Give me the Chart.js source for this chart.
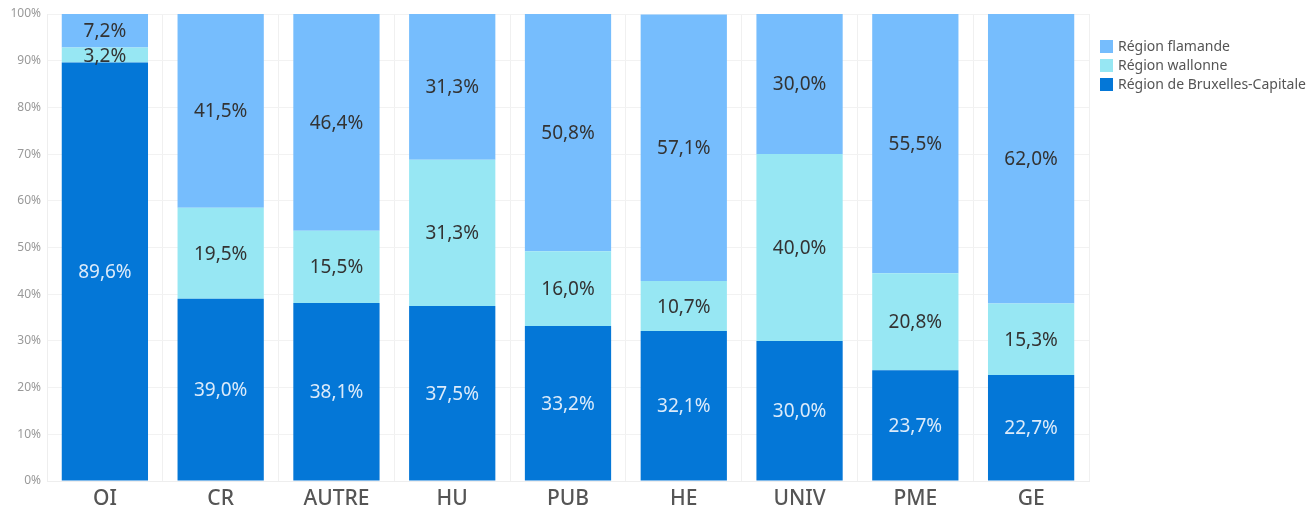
<!DOCTYPE html>
<html>
<head>
<meta charset="utf-8">
<script src="https://cdn.jsdelivr.net/npm/chart.js@4"></script>
<style>
  html, body { margin: 0; padding: 0; background: #fff; }
  #wrap { position: relative; width: 1315px; height: 512px; }
  #legend { position: absolute; left: 1100px; top: 36px; font: 14px "Noto Sans", sans-serif; color: #555; }
  #legend div { height: 19px; line-height: 19px; white-space: nowrap; }
  #legend span { display: inline-block; width: 13px; height: 13px; vertical-align: -2px; margin-right: 5px; }
</style>
</head>
<body>
<div id="wrap"><canvas id="chart"></canvas><div id="legend"></div></div>
<script>
// données (en %)
const categories = ['OI', 'CR', 'AUTRE', 'HU', 'PUB', 'HE', 'UNIV', 'PME', 'GE'];
const bruxelles = [89.6, 39.0, 38.1, 37.5, 33.2, 32.1, 30.0, 23.7, 22.7];
const wallonne = [3.2, 19.5, 15.5, 31.3, 16.0, 10.7, 40.0, 20.8, 15.3];
const flamande = [7.2, 41.5, 46.4, 31.3, 50.8, 57.1, 30.0, 55.5, 62.0];
const yTicks = [0, 10, 20, 30, 40, 50, 60, 70, 80, 90, 100];

const FONT = '"Noto Sans", sans-serif';

// étiquettes au milieu de chaque segment
const segmentLabels = {
    id: 'segmentLabels',
    afterDatasetsDraw(chart) {
        const ctx = chart.ctx;
        ctx.save();
        ctx.font = '19px ' + FONT;
        ctx.textAlign = 'center';
        ctx.textBaseline = 'middle';
        chart.data.datasets.forEach((ds, i) => {
            const meta = chart.getDatasetMeta(i);
            meta.data.forEach((bar, j) => {
                const v = ds.data[j];
                ctx.fillStyle = ds.labelColor;
                const txt = v.toFixed(1).replace('.', ',') + '%';
                ctx.fillText(txt, bar.x, (bar.y + bar.base) / 2 + 1);
            });
        });
        ctx.restore();
    }
};

const ctx = document.getElementById('chart').getContext('2d');
const chart = new Chart(ctx, {
    type: 'bar',
    data: {
        labels: categories,
        datasets: [
            {
                label: 'Région de Bruxelles-Capitale',
                data: bruxelles,
                backgroundColor: '#0477D7',
                labelColor: '#dcebfa'
            },
            {
                label: 'Région wallonne',
                data: wallonne,
                backgroundColor: '#97E7F3',
                labelColor: '#333333'
            },
            {
                label: 'Région flamande',
                data: flamande,
                backgroundColor: '#76BDFD',
                labelColor: '#333333'
            }
        ]
    },
    options: {
        responsive: true,
        maintainAspectRatio: false,
        animation: false,
        layout: { padding: { top: 14, right: 226, left: 0, bottom: 0 } },
        datasets: {
            bar: { categoryPercentage: 1, barPercentage: 0.745 }
        },
        plugins: {
            tooltip: { enabled: false },
            legend: { display: false }
        },
        scales: {
            x: {
                stacked: true,
                afterFit(axis) { axis.height = 31; },
                grid: { color: '#f0f0f0', offset: true, drawTicks: false },
                border: { color: '#eeeeee' },
                ticks: {
                    color: '#555',
                    padding: 5,
                    font: { family: FONT, size: 21, weight: '500' }
                }
            },
            y: {
                stacked: true,
                min: 0,
                max: 100,
                afterBuildTicks(axis) {
                    axis.ticks = yTicks.map(v => ({ value: v }));
                },
                afterFit(axis) { axis.width = 47; },
                grid: { color: '#f2f2f2', drawTicks: false },
                border: { color: '#eeeeee' },
                ticks: {
                    color: '#999',
                    padding: 6,
                    font: { family: FONT, size: 12 },
                    callback: v => v + '%'
                }
            }
        }
    },
    plugins: [segmentLabels]
});

// légende (ordre inverse, comme dans l'original)
const legend = document.getElementById('legend');
chart.data.datasets.slice().reverse().forEach(ds => {
    const row = document.createElement('div');
    const box = document.createElement('span');
    box.style.background = ds.backgroundColor;
    row.appendChild(box);
    row.appendChild(document.createTextNode(ds.label));
    legend.appendChild(row);
});
</script>
</body>
</html>
